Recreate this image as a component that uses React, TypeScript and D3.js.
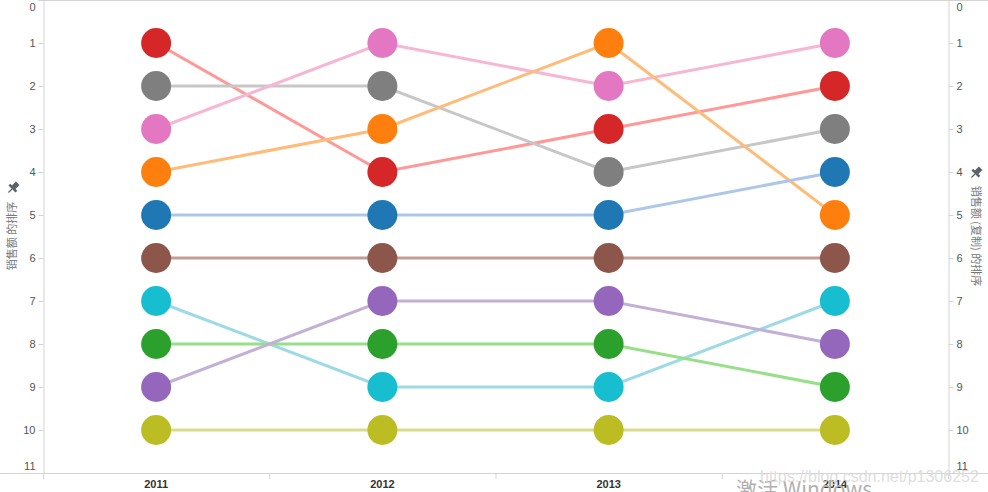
import React, { useEffect, useRef } from "react"
import * as d3 from "d3"

/** Years across the bottom */
const years = ["2011", "2012", "2013", "2014"]

/** Rank of each product per year (1 = best) */
const rankRed = [1, 4, 3, 2]
const rankGray = [2, 2, 4, 3]
const rankPink = [3, 1, 2, 1]
const rankOrange = [4, 3, 1, 5]
const rankBlue = [5, 5, 5, 4]
const rankBrown = [6, 6, 6, 6]
const rankCyan = [7, 9, 9, 7]
const rankGreen = [8, 8, 8, 9]
const rankPurple = [9, 7, 7, 8]
const rankOlive = [10, 10, 10, 10]

const rankTicks = [0, 1, 2, 3, 4, 5, 6, 7, 8, 9, 10, 11]

const series = [
	{ ranks: rankRed, dot: "#d62728", line: "#ff9896" },
	{ ranks: rankGray, dot: "#7f7f7f", line: "#c7c7c7" },
	{ ranks: rankPink, dot: "#e377c2", line: "#f7b6d2" },
	{ ranks: rankOrange, dot: "#ff7f0e", line: "#ffbb78" },
	{ ranks: rankBlue, dot: "#1f77b4", line: "#aec7e8" },
	{ ranks: rankBrown, dot: "#8c564b", line: "#c49c94" },
	{ ranks: rankCyan, dot: "#17becf", line: "#9edae5" },
	{ ranks: rankGreen, dot: "#2ca02c", line: "#98df8a" },
	{ ranks: rankPurple, dot: "#9467bd", line: "#c5b0d5" },
	{ ranks: rankOlive, dot: "#bcbd22", line: "#dbdb8d" },
]

/** Pushpin icon, drawn upright and rotated so the needle points down-left */
const Pin = ({ x, y }: { x: number; y: number }) => (
	<g transform={`translate(${x},${y}) rotate(45)`} fill="#5a6169">
		<rect x={-2.5} y={-8} width={5} height={6} />
		<rect x={-5} y={-2.5} width={10} height={2.5} />
		<rect x={-0.6} y={0} width={1.2} height={5} />
	</g>
)

export default function App() {
	/** Chart dimensions */
	const width = 988
	const height = 492
	const plotLeft = 43
	const plotRight = 948
	const plotBottom = 473

	const xScale = d3.scaleBand().domain(years).range([plotLeft, plotRight])
	const yScale = d3.scaleLinear().domain([0, 11]).range([0, plotBottom])

	const lineGen = d3
		.line<number>()
		.x((_, i) => (xScale(years[i]) as number) + xScale.bandwidth() / 2)
		.y(d => yScale(d))

	const leftRef = useRef<SVGGElement>(null)
	const rightRef = useRef<SVGGElement>(null)
	const bottomRef = useRef<SVGGElement>(null)

	useEffect(() => {
		const styleAxis = (g: d3.Selection<SVGGElement, unknown, null, undefined>) => {
			g.select(".domain").attr("stroke", "#d4d4d4")
			g.selectAll(".tick line").attr("stroke", "#d4d4d4")
			g.selectAll(".tick text")
				.attr("fill", "#555")
				.style("font-family", "'Liberation Sans', Arial, sans-serif")
				.style("font-size", "11px")
		}
		const nudge = (g: d3.Selection<SVGGElement, unknown, null, undefined>) => {
			g.selectAll<SVGTextElement, number>(".tick text").attr("dy", d =>
				d === 0 ? "0.95em" : d === 11 ? "-0.3em" : "0.32em"
			)
		}

		const left = d3.select(leftRef.current!)
		left.call(d3.axisLeft(yScale).tickValues(rankTicks).tickSize(5).tickPadding(3).tickFormat(d3.format("d")))
		styleAxis(left)
		nudge(left)

		const right = d3.select(rightRef.current!)
		right.call(d3.axisRight(yScale).tickValues(rankTicks).tickSize(5).tickPadding(3).tickFormat(d3.format("d")))
		styleAxis(right)
		nudge(right)

		const bottom = d3.select(bottomRef.current!)
		bottom.call(d3.axisBottom(xScale).tickSize(0).tickPadding(6))
		bottom.select(".domain").remove()
		bottom.selectAll(".tick text")
			.attr("fill", "#333")
			.style("font-family", "'Liberation Sans', Arial, sans-serif")
			.style("font-size", "11px")
			.style("font-weight", "bold")
	}, [])

	const bounds = [...years.map(y => xScale(y) as number), plotRight]

	return (
		<svg width={width} height={height} style={{ position: "absolute", left: 0, top: 0, background: "#fff" }}>
			{/* frame */}
			<line x1={plotLeft} x2={width} y1={0.5} y2={0.5} stroke="#d4d4d4" />
			<line x1={0} x2={width} y1={plotBottom + 0.5} y2={plotBottom + 0.5} stroke="#d4d4d4" />
			{bounds.map((b, i) => (
				<line key={i} x1={b + 0.5} x2={b + 0.5} y1={plotBottom} y2={plotBottom + 6} stroke="#d4d4d4" />
			))}

			<g ref={leftRef} transform={`translate(${plotLeft + 0.5},0)`} />
			<g ref={rightRef} transform={`translate(${plotRight + 0.5},0)`} />
			<g ref={bottomRef} transform={`translate(0,${plotBottom + 1})`} />

			{/* axis titles */}
			<g transform="translate(12,236) rotate(-90)">
				<text textAnchor="middle" dy="0.35em" fill="#777" style={{ fontFamily: "'Noto Sans CJK SC', sans-serif", fontSize: 11 }}>
					销售额 的排序
				</text>
			</g>
			<Pin x={12} y={189} />
			<g transform="translate(976,236) rotate(90)">
				<text textAnchor="middle" dy="0.35em" fill="#777" style={{ fontFamily: "'Noto Sans CJK SC', sans-serif", fontSize: 11 }}>
					销售额 (复制) 的排序
				</text>
			</g>
			<Pin x={975} y={174} />

			{/* lines */}
			{series.map((s, i) => (
				<path key={i} d={lineGen(s.ranks) || ""} fill="none" stroke={s.line} strokeWidth={3} />
			))}
			{/* dots */}
			{series.map((s, i) =>
				s.ranks.map((r, j) => (
					<circle
						key={`${i}-${j}`}
						cx={(xScale(years[j]) as number) + xScale.bandwidth() / 2}
						cy={yScale(r)}
						r={15}
						fill={s.dot}
					/>
				))
			)}

			{/* watermarks */}
			<text x={736} y={497} fill="#b0b0b0" style={{ fontFamily: "'Noto Sans CJK SC', sans-serif", fontSize: 21 }}>
				激活 Windows
			</text>
			<text x={760} y={482} fill="#d8d8d8" fillOpacity={0.85} style={{ fontFamily: "'Liberation Sans', Arial, sans-serif", fontSize: 16 }}>
				https://blog.csdn.net/p1306252
			</text>
		</svg>
	)
}
